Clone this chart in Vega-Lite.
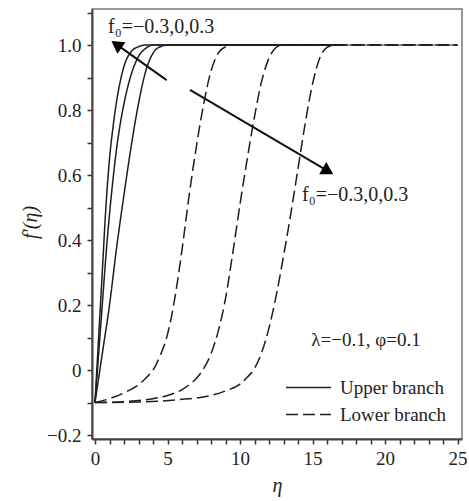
{
  "$schema": "https://vega.github.io/schema/vega-lite/v6.json",
  "width": 370,
  "height": 430,
  "autosize": "none",
  "padding": {"left": 92, "top": 9, "right": 7, "bottom": 62},
  "background": "white",
  "config": {
    "view": {"stroke": "#777", "strokeWidth": 1.5},
    "font": "Liberation Serif",
    "axis": {"ticks": true, "tickColor": "#333", "tickWidth": 1.5, "tickSize": 5}
  },
  "datasets": {
    "curves": [
      {"eta": 0, "f": -0.1, "curve": "U1", "branch": "Upper branch"},
      {"eta": 0.25, "f": 0.1, "curve": "U1", "branch": "Upper branch"},
      {"eta": 0.5, "f": 0.3, "curve": "U1", "branch": "Upper branch"},
      {"eta": 0.75, "f": 0.5, "curve": "U1", "branch": "Upper branch"},
      {"eta": 1.0, "f": 0.65, "curve": "U1", "branch": "Upper branch"},
      {"eta": 1.25, "f": 0.75, "curve": "U1", "branch": "Upper branch"},
      {"eta": 1.5, "f": 0.83, "curve": "U1", "branch": "Upper branch"},
      {"eta": 1.75, "f": 0.89, "curve": "U1", "branch": "Upper branch"},
      {"eta": 2.0, "f": 0.935, "curve": "U1", "branch": "Upper branch"},
      {"eta": 2.5, "f": 0.98, "curve": "U1", "branch": "Upper branch"},
      {"eta": 3.0, "f": 0.995, "curve": "U1", "branch": "Upper branch"},
      {"eta": 3.5, "f": 1.0, "curve": "U1", "branch": "Upper branch"},
      {"eta": 17, "f": 1.0, "curve": "U1", "branch": "Upper branch"},

      {"eta": 0, "f": -0.1, "curve": "U2", "branch": "Upper branch"},
      {"eta": 0.25, "f": 0.05, "curve": "U2", "branch": "Upper branch"},
      {"eta": 0.5, "f": 0.2, "curve": "U2", "branch": "Upper branch"},
      {"eta": 0.75, "f": 0.35, "curve": "U2", "branch": "Upper branch"},
      {"eta": 1.0, "f": 0.48, "curve": "U2", "branch": "Upper branch"},
      {"eta": 1.25, "f": 0.59, "curve": "U2", "branch": "Upper branch"},
      {"eta": 1.5, "f": 0.685, "curve": "U2", "branch": "Upper branch"},
      {"eta": 1.75, "f": 0.76, "curve": "U2", "branch": "Upper branch"},
      {"eta": 2.0, "f": 0.82, "curve": "U2", "branch": "Upper branch"},
      {"eta": 2.5, "f": 0.91, "curve": "U2", "branch": "Upper branch"},
      {"eta": 3.0, "f": 0.965, "curve": "U2", "branch": "Upper branch"},
      {"eta": 3.5, "f": 0.99, "curve": "U2", "branch": "Upper branch"},
      {"eta": 4.0, "f": 1.0, "curve": "U2", "branch": "Upper branch"},
      {"eta": 17, "f": 1.0, "curve": "U2", "branch": "Upper branch"},

      {"eta": 0, "f": -0.1, "curve": "U3", "branch": "Upper branch"},
      {"eta": 0.5, "f": 0.05, "curve": "U3", "branch": "Upper branch"},
      {"eta": 1.0, "f": 0.2, "curve": "U3", "branch": "Upper branch"},
      {"eta": 1.5, "f": 0.38, "curve": "U3", "branch": "Upper branch"},
      {"eta": 2.0, "f": 0.54, "curve": "U3", "branch": "Upper branch"},
      {"eta": 2.5, "f": 0.69, "curve": "U3", "branch": "Upper branch"},
      {"eta": 3.0, "f": 0.82, "curve": "U3", "branch": "Upper branch"},
      {"eta": 3.5, "f": 0.92, "curve": "U3", "branch": "Upper branch"},
      {"eta": 4.0, "f": 0.975, "curve": "U3", "branch": "Upper branch"},
      {"eta": 4.5, "f": 0.995, "curve": "U3", "branch": "Upper branch"},
      {"eta": 5.0, "f": 1.0, "curve": "U3", "branch": "Upper branch"},
      {"eta": 17, "f": 1.0, "curve": "U3", "branch": "Upper branch"},

      {"eta": 0, "f": -0.1, "curve": "L1", "branch": "Lower branch"},
      {"eta": 1, "f": -0.088, "curve": "L1", "branch": "Lower branch"},
      {"eta": 2, "f": -0.07, "curve": "L1", "branch": "Lower branch"},
      {"eta": 3, "f": -0.045, "curve": "L1", "branch": "Lower branch"},
      {"eta": 3.5, "f": -0.025, "curve": "L1", "branch": "Lower branch"},
      {"eta": 4, "f": 0.0, "curve": "L1", "branch": "Lower branch"},
      {"eta": 4.5, "f": 0.045, "curve": "L1", "branch": "Lower branch"},
      {"eta": 5, "f": 0.11, "curve": "L1", "branch": "Lower branch"},
      {"eta": 5.5, "f": 0.22, "curve": "L1", "branch": "Lower branch"},
      {"eta": 6, "f": 0.37, "curve": "L1", "branch": "Lower branch"},
      {"eta": 6.5, "f": 0.54, "curve": "L1", "branch": "Lower branch"},
      {"eta": 7, "f": 0.69, "curve": "L1", "branch": "Lower branch"},
      {"eta": 7.5, "f": 0.82, "curve": "L1", "branch": "Lower branch"},
      {"eta": 8, "f": 0.92, "curve": "L1", "branch": "Lower branch"},
      {"eta": 8.5, "f": 0.975, "curve": "L1", "branch": "Lower branch"},
      {"eta": 9, "f": 0.995, "curve": "L1", "branch": "Lower branch"},
      {"eta": 9.5, "f": 1.0, "curve": "L1", "branch": "Lower branch"},
      {"eta": 25, "f": 1.0, "curve": "L1", "branch": "Lower branch"},

      {"eta": 0, "f": -0.1, "curve": "L2", "branch": "Lower branch"},
      {"eta": 2, "f": -0.097, "curve": "L2", "branch": "Lower branch"},
      {"eta": 4, "f": -0.088, "curve": "L2", "branch": "Lower branch"},
      {"eta": 5, "f": -0.078, "curve": "L2", "branch": "Lower branch"},
      {"eta": 6, "f": -0.06, "curve": "L2", "branch": "Lower branch"},
      {"eta": 6.5, "f": -0.045, "curve": "L2", "branch": "Lower branch"},
      {"eta": 7, "f": -0.025, "curve": "L2", "branch": "Lower branch"},
      {"eta": 7.5, "f": 0.005, "curve": "L2", "branch": "Lower branch"},
      {"eta": 8, "f": 0.05, "curve": "L2", "branch": "Lower branch"},
      {"eta": 8.5, "f": 0.12, "curve": "L2", "branch": "Lower branch"},
      {"eta": 9, "f": 0.22, "curve": "L2", "branch": "Lower branch"},
      {"eta": 9.5, "f": 0.36, "curve": "L2", "branch": "Lower branch"},
      {"eta": 10, "f": 0.51, "curve": "L2", "branch": "Lower branch"},
      {"eta": 10.5, "f": 0.65, "curve": "L2", "branch": "Lower branch"},
      {"eta": 11, "f": 0.78, "curve": "L2", "branch": "Lower branch"},
      {"eta": 11.5, "f": 0.89, "curve": "L2", "branch": "Lower branch"},
      {"eta": 12, "f": 0.96, "curve": "L2", "branch": "Lower branch"},
      {"eta": 12.5, "f": 0.993, "curve": "L2", "branch": "Lower branch"},
      {"eta": 13, "f": 1.0, "curve": "L2", "branch": "Lower branch"},
      {"eta": 25, "f": 1.0, "curve": "L2", "branch": "Lower branch"},

      {"eta": 0, "f": -0.1, "curve": "L3", "branch": "Lower branch"},
      {"eta": 3, "f": -0.098, "curve": "L3", "branch": "Lower branch"},
      {"eta": 6, "f": -0.09, "curve": "L3", "branch": "Lower branch"},
      {"eta": 8, "f": -0.078, "curve": "L3", "branch": "Lower branch"},
      {"eta": 9, "f": -0.064, "curve": "L3", "branch": "Lower branch"},
      {"eta": 10, "f": -0.043, "curve": "L3", "branch": "Lower branch"},
      {"eta": 10.5, "f": -0.022, "curve": "L3", "branch": "Lower branch"},
      {"eta": 11, "f": 0.005, "curve": "L3", "branch": "Lower branch"},
      {"eta": 11.5, "f": 0.055, "curve": "L3", "branch": "Lower branch"},
      {"eta": 12, "f": 0.13, "curve": "L3", "branch": "Lower branch"},
      {"eta": 12.5, "f": 0.23, "curve": "L3", "branch": "Lower branch"},
      {"eta": 13, "f": 0.35, "curve": "L3", "branch": "Lower branch"},
      {"eta": 13.5, "f": 0.48, "curve": "L3", "branch": "Lower branch"},
      {"eta": 14, "f": 0.62, "curve": "L3", "branch": "Lower branch"},
      {"eta": 14.5, "f": 0.76, "curve": "L3", "branch": "Lower branch"},
      {"eta": 15, "f": 0.88, "curve": "L3", "branch": "Lower branch"},
      {"eta": 15.5, "f": 0.96, "curve": "L3", "branch": "Lower branch"},
      {"eta": 16, "f": 0.993, "curve": "L3", "branch": "Lower branch"},
      {"eta": 16.5, "f": 1.0, "curve": "L3", "branch": "Lower branch"},
      {"eta": 25, "f": 1.0, "curve": "L3", "branch": "Lower branch"}
    ],
    "arrows": [
      {"eta": 4.94, "f": 0.892, "eta2": 1.48, "f2": 1.002},
      {"eta": 6.55, "f": 0.862, "eta2": 16.07, "f2": 0.612}
    ],
    "headUp": [{"eta": 1.48, "f": 1.002}],
    "headDown": [{"eta": 16.07, "f": 0.612}],
    "labels": [
      {"eta": 0.9, "f": 1.055, "text": "f₀=−0.3,0,0.3"},
      {"eta": 14.28, "f": 0.538, "text": "f₀=−0.3,0,0.3"}
    ]
  },
  "encoding": {
    "x": {
      "field": "eta",
      "type": "quantitative",
      "title": "η",
      "scale": {"domain": [-0.207, 25.31], "nice": false, "zero": false},
      "axis": {
        "values": [0,1,2,3,4,5,6,7,8,9,10,11,12,13,14,15,16,17,18,19,20,21,22,23,24,25],
        "labelExpr": "datum.value % 5 == 0 ? format(datum.value, 'd') : ''",
        "grid": false,
        "domainColor": "#444",
        "domainWidth": 2,
        "labelFont": "Liberation Serif",
        "labelFontSize": 19,
        "labelColor": "#222",
        "labelPadding": 5,
        "labelFlush": false,
        "titleFont": "Liberation Serif",
        "titleFontStyle": "italic",
        "titleFontWeight": "normal",
        "titleFontSize": 20,
        "titleColor": "#222",
        "titlePadding": 7
      }
    },
    "y": {
      "field": "f",
      "type": "quantitative",
      "title": "f′(η)",
      "scale": {"domain": [-0.212, 1.111], "nice": false, "zero": false},
      "axis": {
        "values": [-0.2,-0.1,0,0.1,0.2,0.3,0.4,0.5,0.6,0.7,0.8,0.9,1.0,1.1],
        "labelExpr": "abs(datum.value*5 - round(datum.value*5)) < 0.01 ? (abs(datum.value) < 0.001 ? '0' : replace(format(datum.value, '.1f'), '-', '−')) : ''",
        "grid": false,
        "domainColor": "#444",
        "domainWidth": 2,
        "labelFont": "Liberation Serif",
        "labelFontSize": 19,
        "labelColor": "#222",
        "labelPadding": 6,
        "labelFlush": false,
        "titleFont": "Liberation Serif",
        "titleFontStyle": "italic",
        "titleFontWeight": "normal",
        "titleFontSize": 20,
        "titleColor": "#222",
        "titleX": -62,
        "titleY": 213,
        "titleBaseline": "middle",
        "titleAlign": "center"
      }
    }
  },
  "layer": [
    {
      "data": {"name": "curves"},
      "mark": {"type": "line", "interpolate": "monotone", "color": "#1e1e1e", "strokeWidth": 1.5},
      "encoding": {
        "detail": {"field": "curve", "type": "nominal"},
        "strokeDash": {
          "field": "branch",
          "type": "nominal",
          "scale": {"domain": ["Upper branch", "Lower branch"], "range": [[1, 0], [12, 5]]},
          "legend": {
            "title": "λ=−0.1,  φ=0.1",
            "orient": "none",
            "legendX": 193,
            "legendY": 322,
            "direction": "vertical",
            "symbolType": "stroke",
            "symbolSize": 2025,
            "symbolStrokeWidth": 1.5,
            "symbolStrokeColor": "#1e1e1e",
            "clipHeight": 17,
            "labelFont": "Liberation Serif",
            "labelFontSize": 19,
            "labelColor": "#222",
            "labelOffset": 8,
            "titleFont": "Liberation Serif",
            "titleFontSize": 19,
            "titleFontWeight": "normal",
            "titleColor": "#222",
            "titleAnchor": "middle",
            "titlePadding": 29,
            "rowPadding": 7
          }
        }
      }
    },
    {
      "data": {"name": "arrows"},
      "mark": {"type": "rule", "color": "#111", "strokeWidth": 2},
      "encoding": {
        "x2": {"field": "eta2"},
        "y2": {"field": "f2"}
      }
    },
    {
      "data": {"name": "headUp"},
      "mark": {"type": "point", "shape": "triangle-up", "filled": true, "color": "#000", "opacity": 1, "size": 200, "angle": 305}
    },
    {
      "data": {"name": "headDown"},
      "mark": {"type": "point", "shape": "triangle-up", "filled": true, "color": "#000", "opacity": 1, "size": 200, "angle": 120}
    },
    {
      "data": {"name": "labels"},
      "mark": {"type": "text", "align": "left", "baseline": "middle", "font": "Liberation Serif", "fontSize": 20, "color": "#222"},
      "encoding": {"text": {"field": "text", "type": "nominal"}}
    }
  ]
}
